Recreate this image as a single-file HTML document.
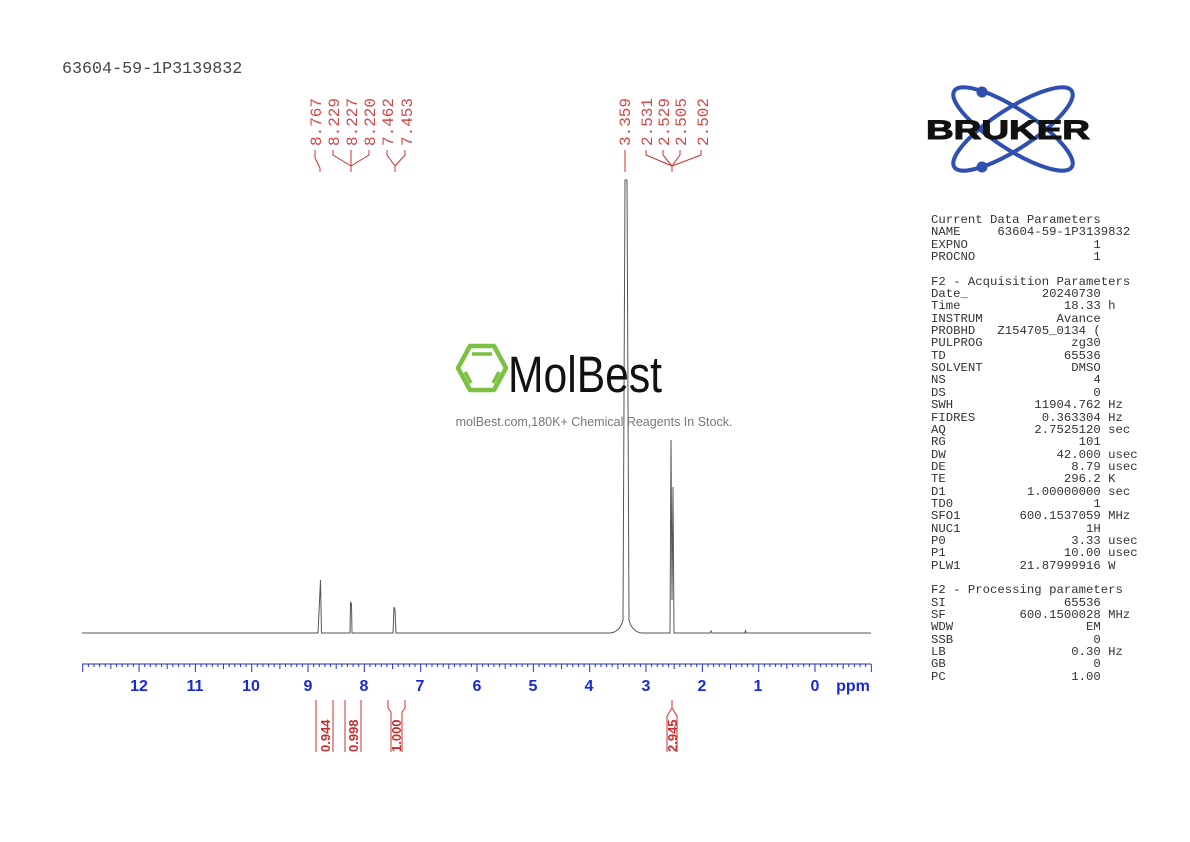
<!DOCTYPE html>
<html><head><meta charset="utf-8"><style>
body{margin:0;background:#fff;width:1190px;height:842px;overflow:hidden;position:relative;font-family:"Liberation Sans",sans-serif}
pre{position:absolute;left:931px;top:214px;margin:0;font-family:"Liberation Mono",monospace;font-size:12.3px;line-height:12.35px;color:#333}
</style></head><body>
<svg width="1190" height="842" style="position:absolute;left:0;top:0" xmlns="http://www.w3.org/2000/svg">
<text x="62" y="73" font-family="Liberation Mono,monospace" font-size="16.7" fill="#444">63604-59-1P3139832</text>
<g font-family="Liberation Mono,monospace" font-size="16" fill="#d04848">
<text transform="translate(321,146) rotate(-90)">8.767</text>
<text transform="translate(339,146) rotate(-90)">8.229</text>
<text transform="translate(357,146) rotate(-90)">8.227</text>
<text transform="translate(375,146) rotate(-90)">8.220</text>
<text transform="translate(393,146) rotate(-90)">7.462</text>
<text transform="translate(412,146) rotate(-90)">7.453</text>
<text transform="translate(630,146) rotate(-90)">3.359</text>
<text transform="translate(652,146) rotate(-90)">2.531</text>
<text transform="translate(669,146) rotate(-90)">2.529</text>
<text transform="translate(686,146) rotate(-90)">2.505</text>
<text transform="translate(708,146) rotate(-90)">2.502</text>
</g>
<g stroke="#c83030" fill="none" stroke-width="1">
<path d="M315,150 L315,158 L320,168 L320,172"/>
<path d="M333,150 L333,155 L351,166 L351,172 M351,150 L351,166 M369,150 L369,155 L351,166"/>
<path d="M387,150 L387,155 L395,166 L395,172 M405,150 L405,155 L395,166"/>
<path d="M625,150 L625,172"/>
<path d="M646,150 L646,155 L672,166 L672,172 M663,150 L663,155 L672,166 M680,150 L680,155 L672,166 M701,150 L701,155 L672,166"/>
</g>
<g stroke="#555" fill="none" stroke-width="1">
<path d="M82,633 L318,633 L320.5,580 L321.5,633 L350,633 L350.5,602 L351.5,604 L352,633 L393,633 L394,607 L395,610 L396,633 L610,633 Q620,632 623,620 L625,180 L627,180 L629,620 Q632,632 642,633 L670,633 L671,440 L672,600 L673,487 L674,633 L710,633 L711,631 L712,633 L745,633 L745.5,630 L746,633 L871,633"/>
</g>
<g stroke="#2030c0" stroke-width="1">
<line x1="82" y1="664" x2="871" y2="664"/>
</g>
<g stroke="#2030c0" stroke-width="1" id="ticks"></g>
<g font-family="Liberation Sans,sans-serif" font-weight="bold" font-size="16" fill="#1a2ad0" text-anchor="middle">
<text x="139" y="691">12</text><text x="195" y="691">11</text><text x="251" y="691">10</text>
<text x="308" y="691">9</text><text x="364" y="691">8</text><text x="420" y="691">7</text>
<text x="477" y="691">6</text><text x="533" y="691">5</text><text x="589" y="691">4</text>
<text x="646" y="691">3</text><text x="702" y="691">2</text><text x="758" y="691">1</text>
<text x="815" y="691">0</text><text x="853" y="691">ppm</text>
</g>
<g stroke="#c83030" fill="none" stroke-width="1">
<path d="M316,700 L316,752 M333,700 L333,752"/>
<path d="M345,700 L345,752 M361,700 L361,752"/>
<path d="M388,700 L388,708 L391,712 L391,752 M405,700 L405,708 L402,712 L402,752"/>
<path d="M672,700 L672,708 L667,716 L667,752 M672,708 L677,716 L677,752"/>
</g>
<g font-family="Liberation Sans,sans-serif" font-weight="bold" font-size="13" fill="#c83030">
<text transform="translate(330,752) rotate(-90)">0.944</text>
<text transform="translate(358,752) rotate(-90)">0.998</text>
<text transform="translate(401,752) rotate(-90)">1.000</text>
<text transform="translate(677,752) rotate(-90)">2.945</text>
</g>
<g stroke="#7cc242" fill="none" stroke-width="4.5" stroke-linejoin="round">
<polygon points="470,346 494,346 506,368 494,390 470,390 458,368"/>
<path d="M472,354 L492,354 M465,372 L471,383 M499,372 L493,383" stroke-width="3.5"/>
</g>
<text x="0" y="0" font-family="Liberation Sans Narrow,Liberation Sans,sans-serif" font-size="44" fill="#111" textLength="154" lengthAdjust="spacingAndGlyphs" transform="translate(508,392) scale(1,1.15)">MolBest</text>
<text x="594" y="426" font-family="Liberation Sans,sans-serif" font-size="12.5" fill="#777" text-anchor="middle">molBest.com,180K+ Chemical Reagents In Stock.</text>
<g stroke="#3050b0" stroke-width="4" fill="none">
<ellipse cx="1013" cy="129" rx="70" ry="20" transform="rotate(33 1013 129)"/>
<ellipse cx="1013" cy="129" rx="70" ry="20" transform="rotate(-33 1013 129)"/>
</g>
<circle cx="982" cy="92" r="5.5" fill="#3050b0"/><circle cx="982" cy="167" r="5.5" fill="#3050b0"/>
<text x="1008" y="139" font-family="Liberation Sans,sans-serif" font-weight="bold" font-size="27" fill="#111" text-anchor="middle" textLength="164" lengthAdjust="spacingAndGlyphs" stroke="#111" stroke-width="1">BRUKER</text>
</svg>
<script>
var g=document.getElementById('ticks'),s='';
for(var i=0;i<=140;i++){var p=13-i*0.1;var x=815-56.33*p;if(x<82||x>871.5)continue;var m=i%10==0?8:(i%5==0?5:3);s+='<line x1="'+x+'" y1="664" x2="'+x+'" y2="'+(664+m)+'"/>';}
g.innerHTML=s;
</script>
<pre>Current Data Parameters
NAME     63604-59-1P3139832
EXPNO                 1
PROCNO                1

F2 - Acquisition Parameters
Date_          20240730
Time              18.33 h
INSTRUM          Avance
PROBHD   Z154705_0134 (
PULPROG            zg30
TD                65536
SOLVENT            DMSO
NS                    4
DS                    0
SWH           11904.762 Hz
FIDRES         0.363304 Hz
AQ            2.7525120 sec
RG                  101
DW               42.000 usec
DE                 8.79 usec
TE                296.2 K
D1           1.00000000 sec
TD0                   1
SFO1        600.1537059 MHz
NUC1                 1H
P0                 3.33 usec
P1                10.00 usec
PLW1        21.87999916 W

F2 - Processing parameters
SI                65536
SF          600.1500028 MHz
WDW                  EM
SSB                   0
LB                 0.30 Hz
GB                    0
PC                 1.00</pre>
</body></html>
